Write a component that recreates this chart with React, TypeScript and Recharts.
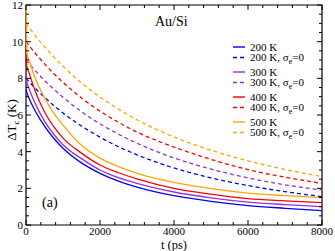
import React from "react";
import { LineChart, Line, XAxis, YAxis, ReferenceArea } from "recharts";

// time (ps)
const T = [0, 20, 100, 250, 500, 750, 1000, 1500, 2000, 2500, 3000, 4000, 5000, 6000, 7000, 8000];

const k200 = [7.4, 7.25, 6.83, 6.22, 5.39, 4.73, 4.19, 3.39, 2.82, 2.39, 2.07, 1.6, 1.29, 1.06, 0.91, 0.78];
const k200s0 = [8.0, 7.96, 7.78, 7.46, 6.97, 6.52, 6.11, 5.4, 4.79, 4.27, 3.83, 3.11, 2.57, 2.15, 1.82, 1.55];
const k300 = [8.2, 7.85, 7.35, 6.62, 5.67, 4.95, 4.38, 3.62, 3.0, 2.58, 2.27, 1.8, 1.48, 1.25, 1.11, 1.0];
const k300s0 = [9.0, 8.95, 8.76, 8.42, 7.89, 7.41, 6.97, 6.18, 5.52, 4.95, 4.46, 3.66, 3.05, 2.57, 2.19, 1.91];
const k400 = [9.8, 8.7, 8.2, 7.3, 6.18, 5.36, 4.74, 3.92, 3.27, 2.85, 2.52, 2.0, 1.68, 1.44, 1.32, 1.22];
const k400s0 = [10.0, 9.95, 9.74, 9.37, 8.79, 8.26, 7.78, 6.93, 6.21, 5.6, 5.07, 4.25, 3.58, 3.02, 2.61, 2.27];
const k500 = [14.0, 9.4, 8.9, 8.0, 6.95, 6.1, 5.45, 4.35, 3.65, 3.18, 2.82, 2.32, 1.98, 1.74, 1.6, 1.49];
const k500s0 = [11.0, 10.95, 10.73, 10.33, 9.73, 9.17, 8.66, 7.75, 6.98, 6.32, 5.74, 4.8, 4.08, 3.5, 3.03, 2.64];

const xTicks = [0, 400, 800, 1200, 1600, 2000, 2400, 2800, 3200, 3600, 4000, 4400, 4800, 5200, 5600, 6000, 6400, 6800, 7200, 7600, 8000];
const yTicks = [0, 0.5, 1, 1.5, 2, 2.5, 3, 3.5, 4, 4.5, 5, 5.5, 6, 6.5, 7, 7.5, 8, 8.5, 9, 9.5, 10, 10.5, 11, 11.5, 12];

const seriesList = [
  { key: "k200", label: "200 K", sigma: false, color: "#0000ff", values: k200 },
  { key: "k200s0", label: "200 K, ", sigma: true, color: "#0000ff", values: k200s0 },
  { key: "k300", label: "300 K", sigma: false, color: "#9932cc", values: k300 },
  { key: "k300s0", label: "300 K, ", sigma: true, color: "#9932cc", values: k300s0 },
  { key: "k400", label: "400 K", sigma: false, color: "#ff0000", values: k400 },
  { key: "k400s0", label: "400 K, ", sigma: true, color: "#ff0000", values: k400s0 },
  { key: "k500", label: "500 K", sigma: false, color: "#ffa500", values: k500 },
  { key: "k500s0", label: "500 K, ", sigma: true, color: "#ffa500", values: k500s0 },
];

const data = T.map((t, i) => {
  const row: any = { t };
  seriesList.forEach((s) => (row[s.key] = s.values[i]));
  return row;
});

const W = 335;
const H = 251;
const M = { top: 5, right: 13, left: 0, bottom: 0 };
const YW = 26;
const XH = 26;
const PLOT_TOP = M.top;
const PLOT_RIGHT = W - M.right;
const TM = 2;
const FONT = "'Liberation Serif', 'Times New Roman', serif";

const XTick = (props: any) => {
  const { x, y, payload } = props;
  const axisY = y - TM;
  const major = payload.value % 2000 === 0;
  const len = major ? 5 : 3;
  return (
    <g>
      <line x1={x} x2={x} y1={axisY} y2={axisY - len} stroke="#000" strokeWidth={1} />
      <line x1={x} x2={x} y1={PLOT_TOP} y2={PLOT_TOP + len} stroke="#000" strokeWidth={1} />
      {major && (
        <text x={x} y={axisY + 10} textAnchor="middle" fontSize={11} fontFamily={FONT} fill="#000">
          {payload.value}
        </text>
      )}
    </g>
  );
};

const YTick = (props: any) => {
  const { x, y, payload } = props;
  const axisX = x + TM;
  const major = payload.value % 2 === 0;
  const len = major ? 5 : 3;
  return (
    <g>
      <line x1={axisX} x2={axisX + len} y1={y} y2={y} stroke="#000" strokeWidth={1} />
      <line x1={PLOT_RIGHT} x2={PLOT_RIGHT - len} y1={y} y2={y} stroke="#000" strokeWidth={1} />
      {major && (
        <text x={axisX - 3} y={y + 4} textAnchor="end" fontSize={11} fontFamily={FONT} fill="#000">
          {payload.value}
        </text>
      )}
    </g>
  );
};

export default function App() {
  return (
    <div style={{ position: "absolute", left: 0, top: 0, width: W, height: H, background: "#fff" }}>
      <LineChart width={W} height={H} data={data} margin={M}>
        <XAxis
          dataKey="t"
          type="number"
          domain={[0, 8000]}
          ticks={xTicks}
          interval={0}
          tickSize={0}
          tickMargin={TM}
          axisLine={false}
          tickLine={false}
          height={XH}
          tick={<XTick />}
        />
        <YAxis
          type="number"
          domain={[0, 12]}
          allowDataOverflow
          ticks={yTicks}
          interval={0}
          tickSize={0}
          tickMargin={TM}
          axisLine={false}
          tickLine={false}
          width={YW}
          tick={<YTick />}
        />
        <ReferenceArea x1={0} x2={8000} y1={0} y2={12} fill="none" fillOpacity={0} stroke="#000" strokeWidth={1.2} ifOverflow="visible" />
        {seriesList.map((s) => (
          <Line
            key={s.key}
            dataKey={s.key}
            type="monotone"
            stroke={s.color}
            strokeWidth={1.3}
            strokeDasharray={s.sigma ? "4 3" : undefined}
            dot={false}
            isAnimationActive={false}
          />
        ))}
      </LineChart>
      <svg width={W} height={H} style={{ position: "absolute", left: 0, top: 0, pointerEvents: "none" }}>
        <text x={155} y={26} fontSize={14} fontFamily={FONT} fill="#000">Au/Si</text>
        <text x={42} y={207} fontSize={14} fontFamily={FONT} fill="#000">(a)</text>
        <text x={174} y={248.5} textAnchor="middle" fontSize={12.5} fontFamily={FONT} fill="#000">t (ps)</text>
        <text transform="rotate(-90, 12, 120)" x={12} y={124} textAnchor="middle" fontSize={13} fontFamily={FONT} fill="#000">
          ΔT<tspan dy={3} fontSize={9}>c</tspan><tspan dy={-3}> (K)</tspan>
        </text>
        {seriesList.map((s, i) => {
          const g = Math.floor(i / 2);
          const r = i % 2;
          const cy = 47 + g * 25 + r * 10.5;
          return (
            <g key={s.key}>
              <line x1={233} x2={245} y1={cy} y2={cy} stroke={s.color} strokeWidth={1.4} strokeDasharray={s.sigma ? "4 3" : undefined} />
              <text x={250} y={cy + 3.8} fontSize={11} fontFamily={FONT} fill="#000">
                {s.label}
                {s.sigma && (
                  <>
                    σ<tspan dy={3} fontSize={8}>e</tspan>
                    <tspan dy={-3}>=0</tspan>
                  </>
                )}
              </text>
            </g>
          );
        })}
      </svg>
    </div>
  );
}
